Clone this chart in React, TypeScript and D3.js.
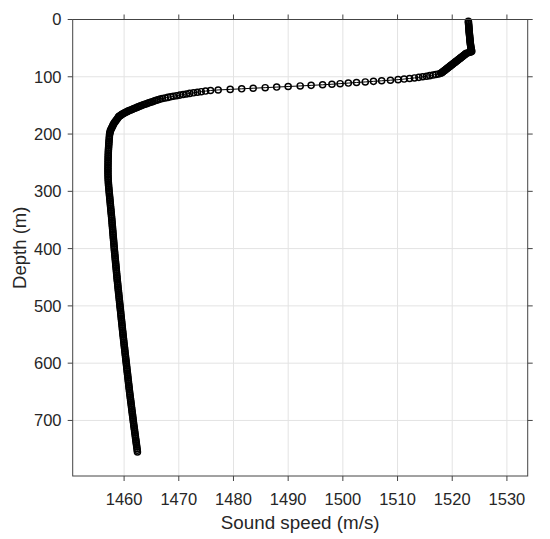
import React from "react";
import * as d3 from "d3";

// ---- Data (sound speed profile, depth in m, speed in m/s) ----
const upperDepth = [3,5,7,9,11,13,15,17,19,21,23,25,27,29,31,33,35,37,39,41,43,45,47,49,51,53,55];
const upperSpeed = [1522.95,1522.97,1522.98,1523.0,1523.02,1523.03,1523.05,1523.07,1523.08,1523.1,1523.12,1523.14,1523.16,1523.18,1523.2,1523.22,1523.24,1523.26,1523.28,1523.3,1523.33,1523.36,1523.39,1523.42,1523.45,1523.5,1523.55];

const thermoDepth = [56,57,58,59,60,61,62,63,64,65,66,67,68,69,70,71,72,73,74,75,76,77,78,79,80,81,82,83,84,85,86,87,88,89,90,91,92,93,94,95,96,97,98,99,100,101,102,103,104,105,106,107,108,109,110,111,112,113,114,115,116,117,118,119,120,121,122,123,124,125,126,127,128,129,130,131,132,133,134,135,136,137,138,139,140,141,142,143,144,145,146,147,148,149,150,151,152,153,154,155,156,157,158,159,160,161,162,163,164,165,166,167,168,169,170];
const thermoSpeed = [1523.55,1523.3,1522.9,1522.6,1522.45,1522.35,1522.2,1522.07,1521.93,1521.8,1521.67,1521.53,1521.4,1521.27,1521.13,1521.0,1520.87,1520.73,1520.6,1520.46,1520.33,1520.2,1520.06,1519.93,1519.8,1519.66,1519.53,1519.4,1519.26,1519.13,1519.0,1518.86,1518.73,1518.6,1518.46,1518.33,1518.2,1518.06,1517.9,1517.5,1517.0,1516.5,1515.9,1515.3,1514.6,1513.9,1513.1,1512.2,1511.2,1510.1,1508.7,1507.1,1505.6,1504.1,1502.5,1501.0,1499.5,1498.0,1496.3,1494.2,1492.2,1490.0,1487.9,1485.8,1483.6,1481.5,1479.4,1477.2,1475.8,1474.9,1474.1,1473.4,1472.7,1472.0,1471.4,1470.8,1470.2,1469.6,1469.0,1468.5,1468.0,1467.5,1467.0,1466.6,1466.2,1465.9,1465.6,1465.3,1465.0,1464.7,1464.4,1464.1,1463.8,1463.5,1463.2,1462.95,1462.7,1462.45,1462.2,1461.95,1461.7,1461.45,1461.2,1460.95,1460.7,1460.5,1460.3,1460.1,1459.9,1459.7,1459.55,1459.4,1459.25,1459.1,1459.0];

const lowerDepth = [172,174,176,178,180,182,184,186,188,190,192,194,196,198,200];
const lowerSpeed = [1458.85,1458.7,1458.55,1458.4,1458.25,1458.1,1458.0,1457.9,1457.8,1457.7,1457.6,1457.5,1457.45,1457.4,1457.35];

const deepDepth = [203,206,209,212,215,218,221,224,227,230,233,236,239,242,245,248,251,254,257,260,263,266,269,272,275,278,281,284,287,290,293,296,299,302,305,308,311,314,317,320,323,326,329,332,335,338,341,344,347,350,353,356,359,362,365,368,371,374,377,380,383,386,389,392,395,398,401,404,407,410,413,416,419,422,425,428,431,434,437,440,443,446,449,452,455,458,461,464,467,470,473,476,479,482,485,488,491,494,497,500,503,506,509,512,515,518,521,524,527,530,533,536,539,542,545,548,551,554,557,560,563,566,569,572,575,578,581,584,587,590,593,596,599,602,605,608,611,614,617,620,623,626,629,632,635,638,641,644,647,650,653,656,659,662,665,668,671,674,677,680,683,686,689,692,695,698,701,704,707,710,713,716,719,722,725,728,731,734,737,740,743,746,749,752,755];
const deepSpeed = [1457.32,1457.30,1457.27,1457.25,1457.22,1457.20,1457.18,1457.16,1457.14,1457.12,1457.11,1457.10,1457.09,1457.08,1457.07,1457.07,1457.06,1457.06,1457.05,1457.05,1457.05,1457.05,1457.05,1457.06,1457.07,1457.08,1457.10,1457.12,1457.14,1457.16,1457.19,1457.22,1457.25,1457.28,1457.31,1457.34,1457.37,1457.40,1457.43,1457.46,1457.49,1457.52,1457.55,1457.58,1457.61,1457.64,1457.67,1457.70,1457.73,1457.76,1457.79,1457.81,1457.84,1457.87,1457.89,1457.92,1457.95,1457.97,1458.00,1458.03,1458.05,1458.08,1458.11,1458.13,1458.16,1458.19,1458.21,1458.24,1458.27,1458.30,1458.33,1458.36,1458.39,1458.42,1458.45,1458.48,1458.51,1458.54,1458.57,1458.60,1458.63,1458.66,1458.69,1458.72,1458.75,1458.78,1458.82,1458.85,1458.88,1458.91,1458.95,1458.98,1459.01,1459.05,1459.08,1459.11,1459.15,1459.18,1459.21,1459.25,1459.28,1459.31,1459.35,1459.38,1459.41,1459.45,1459.48,1459.51,1459.55,1459.58,1459.61,1459.65,1459.68,1459.71,1459.75,1459.78,1459.81,1459.85,1459.88,1459.92,1459.95,1459.99,1460.02,1460.06,1460.10,1460.13,1460.17,1460.20,1460.24,1460.28,1460.31,1460.35,1460.38,1460.42,1460.46,1460.49,1460.53,1460.56,1460.60,1460.64,1460.67,1460.71,1460.74,1460.78,1460.82,1460.85,1460.89,1460.93,1460.96,1461.00,1461.04,1461.08,1461.12,1461.16,1461.20,1461.24,1461.28,1461.32,1461.36,1461.40,1461.44,1461.48,1461.52,1461.56,1461.60,1461.64,1461.68,1461.72,1461.76,1461.80,1461.85,1461.89,1461.93,1461.97,1462.02,1462.06,1462.10,1462.14,1462.19,1462.23,1462.27,1462.31,1462.36,1462.40,1462.44];

const xTicks = [1460, 1470, 1480, 1490, 1500, 1510, 1520, 1530];
const yTicks = [0, 100, 200, 300, 400, 500, 600, 700];
const xLabel = "Sound speed (m/s)";
const yLabel = "Depth (m)";

const W = 550;
const H = 539;
const L = 72.7, R = 527.7, T = 19.5, B = 476;
const FONT = "'Liberation Sans', Arial, Helvetica, sans-serif";

export default function App() {
  const depth = [...upperDepth, ...thermoDepth, ...lowerDepth, ...deepDepth];
  const speed = [...upperSpeed, ...thermoSpeed, ...lowerSpeed, ...deepSpeed];
  const pts = depth.map((d, i) => ({ d, v: speed[i] }));

  const x = d3.scaleLinear().domain([1450.6, 1533.8]).range([L, R]);
  const y = d3.scaleLinear().domain([0, 797]).range([T, B]);

  const line = d3
    .line<{ d: number; v: number }>()
    .x((p) => x(p.v))
    .y((p) => y(p.d));

  const axisColor = "#444";
  const textColor = "#262626";
  const gridColor = "#e3e3e3";
  const tickLen = 5;

  return (
    <svg
      width={W}
      height={H}
      style={{ position: "absolute", left: 0, top: 0, background: "#fff" }}
      fontFamily={FONT}
    >
      <rect x={0} y={0} width={W} height={H} fill="#fff" />
      {/* grid */}
      {xTicks.map((t) => (
        <line key={"gx" + t} x1={x(t)} x2={x(t)} y1={T} y2={B} stroke={gridColor} strokeWidth={1} />
      ))}
      {yTicks.map((t) => (
        <line key={"gy" + t} x1={L} x2={R} y1={y(t)} y2={y(t)} stroke={gridColor} strokeWidth={1} />
      ))}

      {/* data */}
      <path d={line(pts) || ""} fill="none" stroke="#000" strokeWidth={1} />
      {pts.map((p, i) => (
        <circle key={i} cx={x(p.v)} cy={y(p.d)} r={3.05} fill="none" stroke="#000" strokeWidth={1.45} />
      ))}

      {/* axes box */}
      <rect x={L} y={T} width={R - L} height={B - T} fill="none" stroke={axisColor} strokeWidth={1} />

      {/* x ticks bottom & top */}
      {xTicks.map((t) => (
        <g key={"xt" + t}>
          <line x1={x(t)} x2={x(t)} y1={B} y2={B + tickLen} stroke={axisColor} />
          <line x1={x(t)} x2={x(t)} y1={T} y2={T - tickLen} stroke={axisColor} />
          <text x={x(t)} y={505} textAnchor="middle" fontSize={16.5} fill={textColor}>
            {t}
          </text>
        </g>
      ))}
      {/* y ticks left & right */}
      {yTicks.map((t) => (
        <g key={"yt" + t}>
          <line x1={L - tickLen} x2={L} y1={y(t)} y2={y(t)} stroke={axisColor} />
          <line x1={R} x2={R + tickLen} y1={y(t)} y2={y(t)} stroke={axisColor} />
          <text x={61.5} y={y(t)} dy="0.36em" textAnchor="end" fontSize={16.5} fill={textColor}>
            {t}
          </text>
        </g>
      ))}

      <text x={(L + R) / 2} y={529.3} textAnchor="middle" fontSize={18.8} fill={textColor}>
        {xLabel}
      </text>
      <text
        transform={`translate(25.7, ${(T + B) / 2}) rotate(-90)`}
        textAnchor="middle"
        fontSize={18.5}
        fill={textColor}
      >
        {yLabel}
      </text>
    </svg>
  );
}
